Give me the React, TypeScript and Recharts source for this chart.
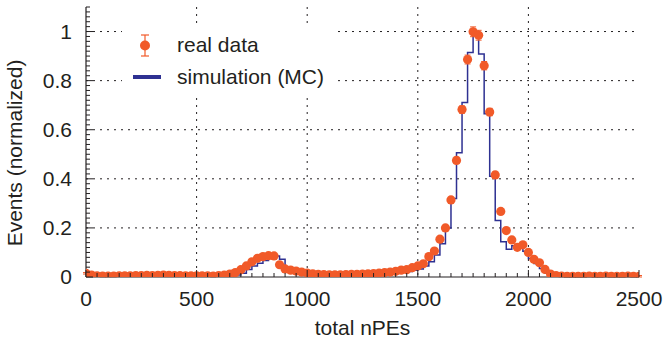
import {
  ComposedChart,
  Line,
  Scatter,
  ErrorBar,
  XAxis,
  YAxis,
  CartesianGrid,
  Legend,
} from 'recharts';

// bin start (total nPEs), 25 wide
const nPE = [
  0, 25, 50, 75, 100, 125, 150, 175, 200, 225,
  250, 275, 300, 325, 350, 375, 400, 425, 450, 475,
  500, 525, 550, 575, 600, 625, 650, 675, 700, 725,
  750, 775, 800, 825, 850, 875, 900, 925, 950, 975,
  1000, 1025, 1050, 1075, 1100, 1125, 1150, 1175, 1200, 1225,
  1250, 1275, 1300, 1325, 1350, 1375, 1400, 1425, 1450, 1475,
  1500, 1525, 1550, 1575, 1600, 1625, 1650, 1675, 1700, 1725,
  1750, 1775, 1800, 1825, 1850, 1875, 1900, 1925, 1950, 1975,
  2000, 2025, 2050, 2075, 2100, 2125, 2150, 2175, 2200, 2225,
  2250, 2275, 2300, 2325, 2350, 2375, 2400, 2425, 2450, 2475,
  2500,
];

const realData = [
  0.015, 0.008, 0.005, 0.004, 0.004, 0.004, 0.005, 0.005, 0.005, 0.006,
  0.006, 0.007, 0.006, 0.007, 0.008, 0.007, 0.006, 0.006, 0.005, 0.005,
  0.005, 0.005, 0.005, 0.004, 0.006, 0.008, 0.012, 0.018, 0.03, 0.045,
  0.062, 0.076, 0.083, 0.087, 0.086, 0.05, 0.033, 0.028, 0.024, 0.02,
  0.016, 0.013, 0.011, 0.01, 0.009, 0.009, 0.009, 0.01, 0.011, 0.011,
  0.012, 0.013, 0.014, 0.016, 0.018, 0.02, 0.023, 0.028, 0.03, 0.038,
  0.045, 0.054, 0.083, 0.106, 0.154, 0.2, 0.314, 0.475, 0.682, 0.886,
  0.999, 0.985, 0.861, 0.672, 0.416, 0.267, 0.189, 0.151, 0.121, 0.131,
  0.1, 0.072, 0.058, 0.031, 0.012, 0.006, 0.004, 0.003, 0.003, 0.003,
  0.003, 0.004, 0.003, 0.003, 0.004, 0.003, 0.003, 0.003, 0.004, 0.003,
  0.003,
];

const realErr = [
  0.003, 0.003, 0.003, 0.003, 0.003, 0.003, 0.003, 0.003, 0.003, 0.003,
  0.003, 0.003, 0.003, 0.003, 0.003, 0.003, 0.003, 0.003, 0.003, 0.003,
  0.003, 0.003, 0.003, 0.003, 0.003, 0.003, 0.004, 0.004, 0.005, 0.005,
  0.006, 0.006, 0.006, 0.006, 0.006, 0.005, 0.005, 0.004, 0.004, 0.004,
  0.004, 0.003, 0.003, 0.003, 0.003, 0.003, 0.003, 0.003, 0.003, 0.003,
  0.003, 0.003, 0.003, 0.004, 0.004, 0.004, 0.004, 0.005, 0.005, 0.005,
  0.006, 0.006, 0.007, 0.008, 0.009, 0.01, 0.011, 0.013, 0.015, 0.018,
  0.02, 0.02, 0.017, 0.015, 0.012, 0.01, 0.009, 0.008, 0.008, 0.008,
  0.007, 0.006, 0.006, 0.004, 0.003, 0.003, 0.003, 0.003, 0.003, 0.003,
  0.003, 0.003, 0.003, 0.003, 0.003, 0.003, 0.003, 0.003, 0.003, 0.003,
  0.003,
];

const simulation = [
  0.008, 0.003, 0.002, 0.002, 0.002, 0.002, 0.002, 0.002, 0.002, 0.002,
  0.002, 0.002, 0.002, 0.002, 0.002, 0.002, 0.002, 0.002, 0.002, 0.002,
  0.002, 0.002, 0.003, 0.003, 0.004, 0.005, 0.006, 0.008, 0.015, 0.031,
  0.045, 0.056, 0.067, 0.076, 0.086, 0.072, 0.02, 0.015, 0.012, 0.01,
  0.008, 0.007, 0.006, 0.006, 0.006, 0.006, 0.006, 0.007, 0.007, 0.008,
  0.008, 0.009, 0.01, 0.011, 0.012, 0.014, 0.016, 0.019, 0.022, 0.027,
  0.033, 0.045, 0.062, 0.09, 0.135, 0.2, 0.32, 0.506, 0.711, 0.915,
  1.0, 0.909, 0.665, 0.41, 0.23, 0.144, 0.113, 0.127, 0.12, 0.105,
  0.075, 0.055, 0.035, 0.015, 0.006, 0.003, 0.002, 0.002, 0.002, 0.002,
  0.002, 0.002, 0.002, 0.002, 0.002, 0.002, 0.002, 0.002, 0.002, 0.002,
  0.002,
];

const xMajor = [0, 500, 1000, 1500, 2000, 2500];
const yMajor = [0, 0.2, 0.4, 0.6, 0.8, 1];
const xGrid = [500, 1000, 1500, 2000];
const yGrid = [0.2, 0.4, 0.6, 0.8, 1];
const seriesNames = ['real data', 'simulation (MC)'];

const ORANGE = '#f15a29';
const BLUE = '#2e3192';
const INK = '#231f20';
const FONT = '"Liberation Sans", Arial, Helvetica, sans-serif';
const FS = 21;

// minor ticks every 50 on x, every 0.02 on y
const xTicks = Array.from({ length: 51 }, (_, i) => i * 50);
const yTicks = Array.from({ length: 56 }, (_, i) => Math.round(i * 2) / 100);

const isMajor = (list: number[], v: number) => list.some((m) => Math.abs(m - v) < 1e-9);

const table = nPE.map((x, i) => ({
  x,
  real: realData[i],
  err: realErr[i],
  mc: simulation[i],
}));

function BottomTick({ x, y, payload }: any) {
  const major = isMajor(xMajor, payload.value);
  return (
    <g>
      <line x1={x} x2={x} y1={y} y2={y - (major ? 7 : 4)} stroke={INK} />
      {major && (
        <text x={x} y={y + 29} textAnchor="middle" fill={INK} fontSize={FS} fontFamily={FONT}>
          {payload.value}
        </text>
      )}
    </g>
  );
}

function TopTick({ x, y, payload }: any) {
  const major = isMajor(xMajor, payload.value);
  return <line x1={x} x2={x} y1={y} y2={y + (major ? 7 : 4)} stroke={INK} />;
}

function LeftTick({ x, y, payload }: any) {
  const major = isMajor(yMajor, payload.value);
  return (
    <g>
      <line x1={x} x2={x + (major ? 7 : 4)} y1={y} y2={y} stroke={INK} />
      {major && (
        <text x={x - 14} y={y + 7} textAnchor="end" fill={INK} fontSize={FS} fontFamily={FONT}>
          {payload.value}
        </text>
      )}
    </g>
  );
}

function RightTick({ x, y, payload }: any) {
  const major = isMajor(yMajor, payload.value);
  return <line x1={x} x2={x - (major ? 7 : 4)} y1={y} y2={y} stroke={INK} />;
}

function XTitle({ viewBox }: any) {
  return (
    <text
      x={viewBox.x + viewBox.width / 2}
      y={viewBox.y + 58}
      textAnchor="middle"
      fill={INK}
      fontSize={FS}
      fontFamily={FONT}
    >
      total nPEs
    </text>
  );
}

function YTitle({ viewBox }: any) {
  const cx = 22;
  const cy = viewBox.y + viewBox.height / 2 + 11;
  return (
    <text
      x={cx}
      y={cy}
      transform={`rotate(-90 ${cx} ${cy})`}
      textAnchor="middle"
      fill={INK}
      fontSize={FS}
      fontFamily={FONT}
    >
      Events (normalized)
    </text>
  );
}

function LegendBox() {
  return (
    <svg width={216} height={72} style={{ display: 'block' }}>
      <line x1={23} x2={23} y1={11} y2={32} stroke={ORANGE} strokeWidth={1.2} />
      <line x1={19} x2={27} y1={11} y2={11} stroke={ORANGE} strokeWidth={1.2} />
      <line x1={19} x2={27} y1={32} y2={32} stroke={ORANGE} strokeWidth={1.2} />
      <circle cx={23} cy={21.5} r={5} fill={ORANGE} />
      <text x={55} y={28} fill={INK} fontSize={FS} fontFamily={FONT}>
        {seriesNames[0]}
      </text>
      <line x1={11} x2={39} y1={53} y2={53} stroke={BLUE} strokeWidth={4} />
      <text x={55} y={60} fill={INK} fontSize={FS} fontFamily={FONT}>
        {seriesNames[1]}
      </text>
    </svg>
  );
}

export default function App() {
  return (
    <div style={{ position: 'absolute', left: 0, top: 0, background: '#fff' }}>
      <ComposedChart
        width={666}
        height={346}
        data={table}
        margin={{ top: 7, right: 27, bottom: 0, left: 0 }}
      >
        <CartesianGrid
          stroke={INK}
          strokeDasharray="2 5"
          horizontalValues={yGrid}
          verticalValues={xGrid}
        />
        <XAxis
          dataKey="x"
          type="number"
          domain={[0, 2500]}
          ticks={xTicks}
          interval={0}
          height={69}
          tickSize={0}
          tickMargin={0}
          tickLine={false}
          axisLine={{ stroke: INK, strokeWidth: 1.2 }}
          tick={<BottomTick />}
          allowDataOverflow
          label={<XTitle />}
        />
        <XAxis
          xAxisId="top"
          orientation="top"
          type="number"
          domain={[0, 2500]}
          ticks={xTicks}
          interval={0}
          height={0}
          tickSize={0}
          tickMargin={0}
          tickLine={false}
          axisLine={{ stroke: INK, strokeWidth: 1.2 }}
          tick={<TopTick />}
          allowDataOverflow
        />
        <YAxis
          type="number"
          domain={[0, 1.1]}
          ticks={yTicks}
          interval={0}
          width={86}
          tickSize={0}
          tickMargin={0}
          tickLine={false}
          axisLine={{ stroke: INK, strokeWidth: 1.2 }}
          tick={<LeftTick />}
          allowDataOverflow
          label={<YTitle />}
        />
        <YAxis
          yAxisId="right"
          orientation="right"
          type="number"
          domain={[0, 1.1]}
          ticks={yTicks}
          interval={0}
          width={0}
          tickSize={0}
          tickMargin={0}
          tickLine={false}
          axisLine={{ stroke: INK, strokeWidth: 1.2 }}
          tick={<RightTick />}
          allowDataOverflow
        />
        <Line
          name={seriesNames[1]}
          type="stepAfter"
          dataKey="mc"
          stroke={BLUE}
          strokeWidth={1.5}
          dot={false}
          isAnimationActive={false}
        />
        <Scatter
          name={seriesNames[0]}
          data={table}
          dataKey="real"
          fill={ORANGE}
          isAnimationActive={false}
          shape={(p: any) => <circle cx={p.cx} cy={p.cy} r={4.6} fill={ORANGE} />}
        >
          <ErrorBar dataKey="err" direction="y" width={3} stroke={ORANGE} strokeWidth={1} />
        </Scatter>
        <Legend
          layout="vertical"
          align="center"
          verticalAlign="middle"
          wrapperStyle={{ left: 122, top: 24, width: 216, height: 72, background: '#fff' }}
          content={() => <LegendBox />}
        />
      </ComposedChart>
    </div>
  );
}
